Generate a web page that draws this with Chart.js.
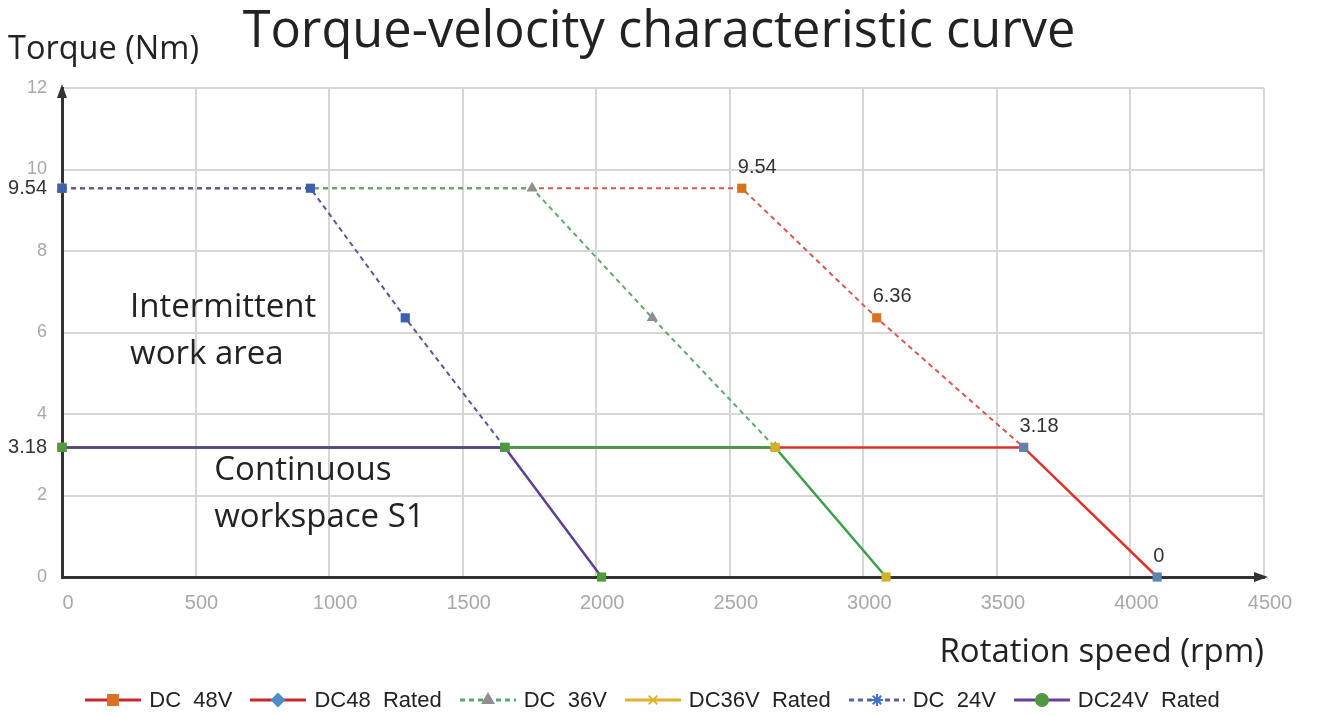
<!DOCTYPE html>
<html>
<head>
<meta charset="utf-8">
<title>Torque-velocity characteristic curve</title>
<script src="https://cdn.jsdelivr.net/npm/chart.js@4.4.1/dist/chart.umd.min.js"></script>
<style>
  html, body { margin: 0; padding: 0; background: #fff; }
  #wrap { position: relative; width: 1318px; height: 715px; }
  #chart { display: block; }
  #legend {
    position: absolute; left: 0; top: 688px; width: 1304px;
    display: flex; justify-content: center;
    font-family: 'Liberation Sans', Arial, sans-serif; font-size: 22px; color: #222;
    white-space: pre; line-height: 24px;
  }
  .item { display: flex; align-items: center; margin: 0 8.5px; }
  .item canvas { margin-right: 7px; }
</style>
</head>
<body>
<div id="wrap">
  <canvas id="chart" width="1318" height="715"></canvas>
  <div id="legend"></div>
</div>
<script>
// series names, in legend order
const seriesNames = ['DC  48V', 'DC48  Rated', 'DC  36V', 'DC36V  Rated', 'DC  24V', 'DC24V  Rated'];

// rotation speed (rpm) of each curve point
const speed48 = [0, 2545, 3050, 3600];
const speed48Rated = [0, 3600, 4100];
const speed36 = [0, 1760, 2210, 2670];
const speed36Rated = [0, 2670, 3085];
const speed24 = [0, 930, 1285, 1658];
const speed24Rated = [0, 1658, 2020];

// torque (Nm) at those points
const torquePeak = [9.54, 9.54, 6.36, 3.18];
const torqueRated = [3.18, 3.18, 0];

// axis ticks
const xTicks = [0, 500, 1000, 1500, 2000, 2500, 3000, 3500, 4000, 4500];
const yTicks = [0, 2, 4, 6, 8, 10, 12];
const yMarks = [3.18, 9.54];

const FONT = "'Liberation Sans', Arial, sans-serif";
const FONT_TEXT = "'Open Sans', 'Noto Sans', sans-serif";

function series(name, xs, ys, style) {
  return Object.assign({
    label: name,
    data: xs.map((x, i) => ({ x: x, y: ys[i] })),
    pointRadius: 6.5,
    pointHoverRadius: 6.5,
    pointBorderWidth: 0,
    fill: false,
    tension: 0,
    clip: false,
  }, style);
}

const datasets = [
  series(seriesNames[0], speed48, torquePeak, {
    borderColor: '#d25a4f', borderWidth: 2, borderDash: [5, 4],
    pointStyle: 'rect', pointBackgroundColor: '#d8721e', order: 6,
    legend: { line: '#c8282a', dash: [], style: 'rect', color: '#d8721e', radius: 7 },
    labelPoints: [1, 2, 3],
  }),
  series(seriesNames[1], speed48Rated, torqueRated, {
    borderColor: '#dc3228', borderWidth: 2.5,
    pointStyle: 'rect', pointBackgroundColor: '#5d84ab', order: 3,
    legend: { line: '#c8282a', dash: [], style: 'rectRot', color: '#4a8ccc', radius: 6 },
    labelPoints: [2],
  }),
  series(seriesNames[2], speed36, torquePeak, {
    borderColor: '#62a86c', borderWidth: 2, borderDash: [5, 4],
    pointStyle: 'triangle', pointBackgroundColor: '#8f8f8f', order: 5,
    legend: { line: '#5aa868', dash: [5, 4], style: 'triangle', color: '#8f8f8f', radius: 6 },
  }),
  series(seriesNames[3], speed36Rated, torqueRated, {
    borderColor: '#3c9e48', borderWidth: 2.5,
    pointStyle: 'rect', pointBackgroundColor: '#d2b02c', order: 2,
    legend: { line: '#e0b22a', dash: [], style: 'crossRot', color: '#e0b22a', radius: 6 },
  }),
  series(seriesNames[4], speed24, torquePeak, {
    borderColor: '#555895', borderWidth: 2, borderDash: [5, 4],
    pointStyle: 'rect', pointBackgroundColor: '#3f5fae', order: 4,
    legend: { line: '#5a5e9e', dash: [5, 4], style: 'star', color: '#3f6fd0', radius: 6 },
  }),
  series(seriesNames[5], speed24Rated, torqueRated, {
    borderColor: '#5e3f92', borderWidth: 2.5,
    pointStyle: 'rect', pointBackgroundColor: '#4f9a3e', order: 1,
    legend: { line: '#6a3e9a', dash: [], style: 'circle', color: '#4f9a3e', radius: 6 },
  }),
];

// text written inside the plot, placed in data units
const areaNotes = [
  { x: 255, y: 6.6, text: 'Intermittent' },
  { x: 255, y: 5.45, text: 'work area' },
  { x: 570, y: 2.6, text: 'Continuous' },
  { x: 570, y: 1.45, text: 'workspace S1' },
];

const isMark = (v) => yMarks.includes(v);

const extras = {
  id: 'extras',
  beforeDatasetsDraw(chart) {
    const { ctx, scales: { x, y } } = chart;
    ctx.save();
    ctx.fillStyle = '#222';
    ctx.font = '33px ' + FONT_TEXT;
    ctx.textAlign = 'left';
    ctx.textBaseline = 'middle';
    areaNotes.forEach((n) => ctx.fillText(n.text, x.getPixelForValue(n.x), y.getPixelForValue(n.y)));
    ctx.restore();
  },
  afterDatasetsDraw(chart) {
    const { ctx } = chart;
    ctx.save();
    ctx.fillStyle = '#333';
    ctx.font = '20px ' + FONT;
    ctx.textAlign = 'left';
    ctx.textBaseline = 'middle';
    chart.data.datasets.forEach((ds, di) => {
      if (!ds.labelPoints) return;
      const meta = chart.getDatasetMeta(di);
      ds.labelPoints.forEach((pi) => {
        const el = meta.data[pi];
        const v = ds.data[pi].y;
        ctx.fillText(v === 0 ? '0' : v.toFixed(2), el.x - 4, el.y - 21);
      });
    });
    ctx.restore();
  },
  afterDraw(chart) {
    const { ctx, chartArea: a, width } = chart;
    ctx.save();
    ctx.fillStyle = '#333';
    // axis arrows
    ctx.beginPath();
    ctx.moveTo(a.left, a.top - 4);
    ctx.lineTo(a.left - 5, a.top + 10);
    ctx.lineTo(a.left + 5, a.top + 10);
    ctx.closePath();
    ctx.fill();
    ctx.beginPath();
    ctx.moveTo(a.right + 4, a.bottom);
    ctx.lineTo(a.right - 10, a.bottom - 5);
    ctx.lineTo(a.right - 10, a.bottom + 5);
    ctx.closePath();
    ctx.fill();
    // chart title and y axis name
    ctx.fillStyle = '#222';
    ctx.textBaseline = 'middle';
    ctx.font = '50.5px ' + FONT_TEXT;
    ctx.textAlign = 'center';
    ctx.fillText('Torque-velocity characteristic curve', width / 2, 33);
    ctx.font = '32.5px ' + FONT_TEXT;
    ctx.textAlign = 'left';
    ctx.fillText('Torque (Nm)', 8, 50);
    ctx.restore();
  },
};

new Chart(document.getElementById('chart'), {
  type: 'line',
  data: { datasets: datasets },
  plugins: [extras],
  options: {
    responsive: false,
    animation: false,
    layout: { padding: { top: 88, left: 0, right: 54, bottom: 40 } },
    plugins: {
      legend: { display: false },
      tooltip: { enabled: false },
      title: { display: false },
    },
    scales: {
      x: {
        type: 'linear',
        min: 0,
        max: 4500,
        afterBuildTicks: (s) => { s.ticks = xTicks.map((v) => ({ value: v })); },
        afterFit: (s) => { s.height = 98; },
        grid: {
          color: (c) => (c.tick && c.tick.value === 0 ? 'rgba(0,0,0,0)' : '#d6d6d6'),
          lineWidth: 2,
          drawTicks: false,
        },
        border: { color: '#333', width: 3 },
        ticks: {
          color: '#a8a8a8',
          font: { family: FONT, size: 20 },
          padding: 14,
          labelOffset: 6,
          maxRotation: 0,
          callback: (v) => String(v),
        },
        title: {
          display: true,
          text: 'Rotation speed (rpm)',
          align: 'end',
          color: '#222',
          font: { family: FONT_TEXT, size: 33, weight: 'normal' },
          padding: { top: 0, bottom: 3 },
        },
      },
      y: {
        min: 0,
        max: 12,
        afterBuildTicks: (s) => {
          s.ticks = yTicks.concat(yMarks).sort((p, q) => p - q).map((v) => ({ value: v }));
        },
        afterFit: (s) => { s.width = 62; },
        grid: {
          color: (c) => (c.tick && (c.tick.value === 0 || isMark(c.tick.value)) ? 'rgba(0,0,0,0)' : '#d6d6d6'),
          lineWidth: 2,
          drawTicks: false,
        },
        border: { color: '#333', width: 3 },
        ticks: {
          padding: 15,
          color: (c) => (c.tick && isMark(c.tick.value) ? '#333' : '#a8a8a8'),
          font: (c) => ({ family: FONT, size: c.tick && isMark(c.tick.value) ? 20 : 18 }),
          callback: (v) => String(v),
        },
      },
    },
  },
});

// legend: a small line + marker drawn with the library's own point helper
const legendBox = document.getElementById('legend');
datasets.forEach((ds) => {
  const lg = ds.legend;
  const item = document.createElement('span');
  item.className = 'item';
  const c = document.createElement('canvas');
  c.width = 58;
  c.height = 20;
  const ctx = c.getContext('2d');
  ctx.strokeStyle = lg.line;
  ctx.lineWidth = 3;
  ctx.setLineDash(lg.dash);
  ctx.beginPath();
  ctx.moveTo(1, 10);
  ctx.lineTo(57, 10);
  ctx.stroke();
  ctx.setLineDash([]);
  ctx.fillStyle = lg.color;
  ctx.strokeStyle = lg.color;
  ctx.lineWidth = 2;
  Chart.helpers.drawPoint(ctx, { pointStyle: lg.style, radius: lg.radius, rotation: 0, borderWidth: 2 }, 29, 10);
  const t = document.createElement('span');
  t.textContent = ds.label;
  item.appendChild(c);
  item.appendChild(t);
  legendBox.appendChild(item);
});
</script>
</body>
</html>
